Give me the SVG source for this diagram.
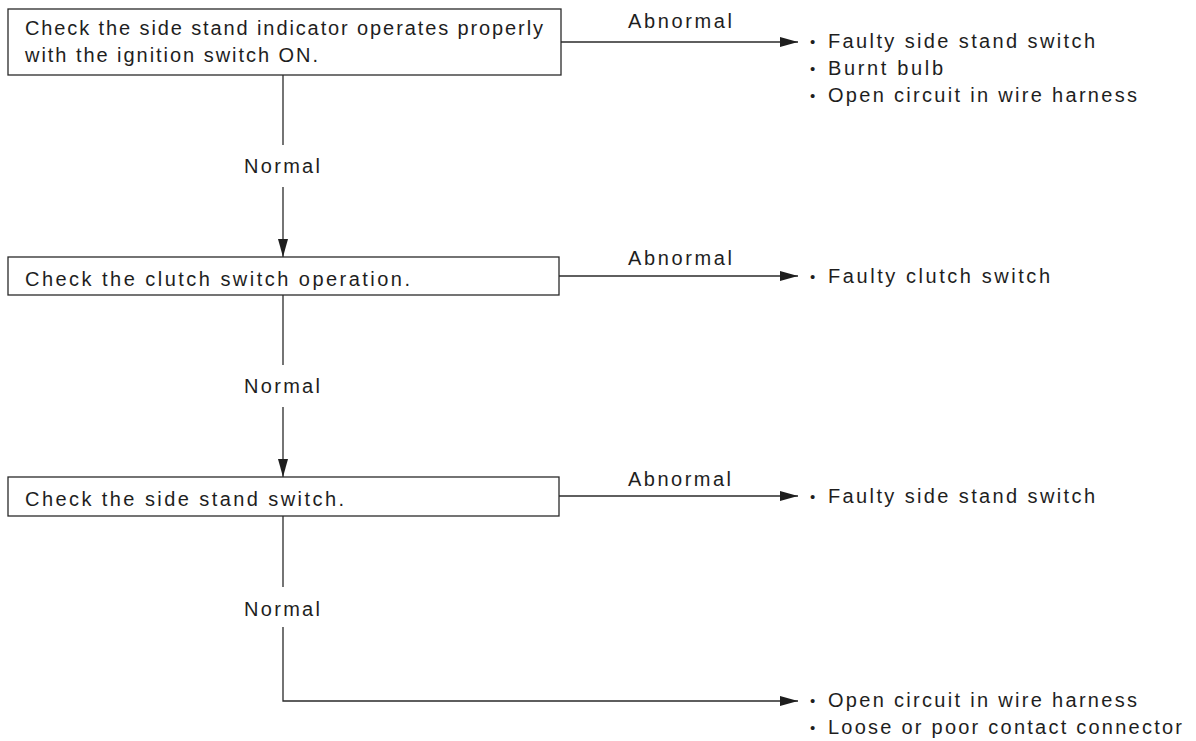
<svg xmlns="http://www.w3.org/2000/svg" width="1196" height="741" viewBox="0 0 1196 741">
<style>
  .bg { fill: #ffffff; }
  .box { fill: #ffffff; stroke: #2a2a2a; stroke-width: 1.3; }
  .conn { fill: none; stroke: #2a2a2a; stroke-width: 1.3; }
  .t { font-family: "Liberation Sans", Arial, Helvetica, sans-serif; font-size: 20px; fill: #1e1e1e; }
  .lbl { font-family: "Liberation Sans", Arial, Helvetica, sans-serif; font-size: 20px; fill: #1e1e1e; }
  .bul { font-family: "Liberation Sans", Arial, Helvetica, sans-serif; font-size: 15px; fill: #1e1e1e; }
</style>
<defs>
  <marker id="arr" viewBox="0 0 18 10" refX="18" refY="5" markerWidth="18" markerHeight="10" markerUnits="userSpaceOnUse" orient="auto">
    <path d="M0,0 L18,5 L0,10 Z" fill="#1e1e1e"/>
  </marker>
</defs>
<rect class="bg" x="0" y="0" width="1196" height="741"/>

<g id="connectors">
  <line class="conn" x1="283" y1="75" x2="283" y2="145"/>
  <line class="conn" x1="283" y1="187" x2="283" y2="257" marker-end="url(#arr)"/>
  <line class="conn" x1="283" y1="295" x2="283" y2="365"/>
  <line class="conn" x1="283" y1="407" x2="283" y2="477" marker-end="url(#arr)"/>
  <line class="conn" x1="283" y1="516" x2="283" y2="587"/>
  <polyline class="conn" points="283,627 283,701 798,701" marker-end="url(#arr)"/>
  <line class="conn" x1="561" y1="42" x2="798" y2="42" marker-end="url(#arr)"/>
  <line class="conn" x1="559" y1="276" x2="798" y2="276" marker-end="url(#arr)"/>
  <line class="conn" x1="559" y1="496" x2="798" y2="496" marker-end="url(#arr)"/>
  <text class="lbl" x="628" y="28" textLength="104" lengthAdjust="spacing">Abnormal</text>
  <text class="lbl" x="628" y="265" textLength="104" lengthAdjust="spacing">Abnormal</text>
  <text class="lbl" x="628" y="486" textLength="103" lengthAdjust="spacing">Abnormal</text>
  <text class="lbl" x="244" y="173" textLength="76" lengthAdjust="spacing">Normal</text>
  <text class="lbl" x="244" y="393" textLength="76" lengthAdjust="spacing">Normal</text>
  <text class="lbl" x="244" y="616" textLength="76" lengthAdjust="spacing">Normal</text>
</g>

<g id="node-check-indicator">
  <rect class="box" x="8" y="9" width="553" height="66"/>
  <text class="t" x="25" y="35" textLength="518" lengthAdjust="spacing">Check the side stand indicator operates properly</text>
  <text class="t" x="25" y="62" textLength="293" lengthAdjust="spacing">with the ignition switch ON.</text>
</g>

<g id="node-check-clutch">
  <rect class="box" x="8" y="257" width="551" height="38"/>
  <text class="t" x="25" y="286" textLength="385" lengthAdjust="spacing">Check the clutch switch operation.</text>
</g>

<g id="node-check-sidestand">
  <rect class="box" x="8" y="477" width="551" height="39"/>
  <text class="t" x="25" y="506" textLength="319" lengthAdjust="spacing">Check the side stand switch.</text>
</g>

<g id="result-1">
  <text class="bul" x="810" y="47">•</text>
  <text class="t" x="828" y="48" textLength="267" lengthAdjust="spacing">Faulty side stand switch</text>
  <text class="bul" x="810" y="74">•</text>
  <text class="t" x="828" y="75" textLength="115" lengthAdjust="spacing">Burnt bulb</text>
  <text class="bul" x="810" y="101">•</text>
  <text class="t" x="828" y="102" textLength="309" lengthAdjust="spacing">Open circuit in wire harness</text>
</g>

<g id="result-2">
  <text class="bul" x="810" y="282">•</text>
  <text class="t" x="828" y="283" textLength="222" lengthAdjust="spacing">Faulty clutch switch</text>
</g>

<g id="result-3">
  <text class="bul" x="810" y="502">•</text>
  <text class="t" x="828" y="503" textLength="267" lengthAdjust="spacing">Faulty side stand switch</text>
</g>

<g id="result-4">
  <text class="bul" x="810" y="706">•</text>
  <text class="t" x="828" y="707" textLength="309" lengthAdjust="spacing">Open circuit in wire harness</text>
  <text class="bul" x="810" y="733">•</text>
  <text class="t" x="828" y="734" textLength="354" lengthAdjust="spacing">Loose or poor contact connector</text>
</g>
</svg>
